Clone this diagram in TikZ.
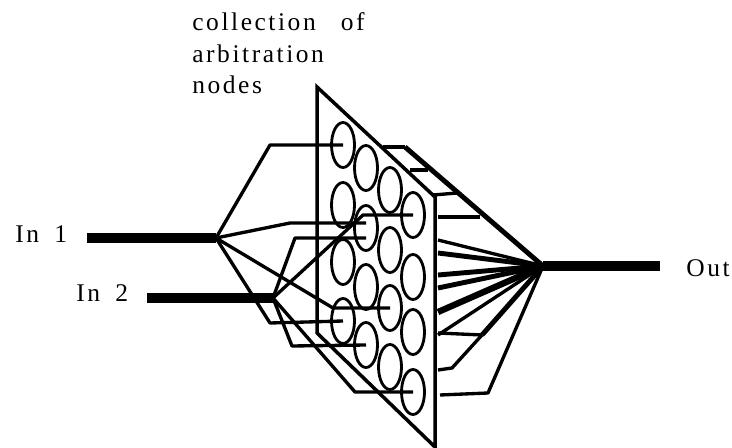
\documentclass[tikz,border=0pt]{standalone}
\usepackage{fontspec}
\setmainfont[LetterSpace=10,WordSpace=1.7]{Liberation Serif}
\usetikzlibrary{shapes.geometric}
\tikzstyle{cell}=[ellipse, draw=black, line width=1.6pt, inner sep=0pt, minimum width=0.46cm, minimum height=0.9cm]
\tikzstyle{wire}=[line width=1.9pt, line join=round]
\tikzstyle{heavywire}=[line width=2.8pt, line join=round]
\tikzstyle{bus}=[line width=6.2pt]
\tikzstyle{panelsty}=[line width=2pt, line join=miter]
\tikzstyle{labelsty}=[font=\fontsize{14.5}{17.9}\selectfont, inner sep=0pt]
\begin{document}
\begin{tikzpicture}[x=0.02cm,y=-0.02cm]
      \useasboundingbox (0,0) rectangle (732,448);

      % Panel
      \coordinate (pa) at (317,87);
      \coordinate (pb) at (317,333);
      \coordinate (pc) at (435,447);
      \coordinate (pd) at (435,197);
      \draw[panelsty] (pa) -- (pb) -- (pc) -- (pd) -- cycle;

      % Arbitration nodes, column by column
      \node[cell] (e11) at (343,145) {};
      \node[cell] (e12) at (343,205) {};
      \node[cell] (e13) at (343,262) {};
      \node[cell] (e14) at (343,321) {};

      \node[cell] (e21) at (366,168) {};
      \node[cell] (e22) at (366,228) {};
      \node[cell] (e23) at (366,287) {};
      \node[cell] (e24) at (366,345) {};

      \node[cell] (e31) at (390,190) {};
      \node[cell] (e32) at (390,250) {};
      \node[cell] (e33) at (390,308) {};
      \node[cell] (e34) at (390,367) {};

      \node[cell] (e41) at (413,215) {};
      \node[cell] (e42) at (413,277) {};
      \node[cell] (e43) at (413,332) {};
      \node[cell] (e44) at (413,392) {};

      % Inputs and output
      \node[labelsty,anchor=base west] (in1) at (15,243) {In 1};
      \node[labelsty,anchor=base west] (in2) at (76,302) {In 2};
      \node[labelsty,anchor=base west] (out) at (686,277) {Out};
      \node[labelsty,anchor=north west,align=left] (title) at (192,12.6) {collection\hspace{0.2cm} of\\arbitration\\nodes};

      \coordinate (in1s) at (87,238);
      \coordinate (in2s) at (147,298);
      \coordinate (outs) at (660,266);
      \coordinate (ja) at (216,238);
      \coordinate (jb) at (273,298);
      \coordinate (jc) at (543,266);

      \draw[bus] (in1s) -- (ja);
      \draw[bus] (in2s) -- (jb);
      \draw[bus] (jc) -- (outs);

      % Wires from In 1
      \draw[wire] (ja) -- (270,145) -- (e11.center);
      \draw[wire] (ja) -- (290,223) -- (366,223);
      \draw[wire] (ja) -- (333,308) -- (390,308);
      \draw[wire] (ja) -- (270,323) -- (e14.center);

      % Wires from In 2
      \draw[wire] (jb) -- (295,238) -- (366,238);
      \draw[wire] (jb) -- (363,215) -- (e41.center);
      \draw[wire] (jb) -- (292,346) -- (e24.center);
      \draw[wire] (jb) -- (355,392) -- (e44.center);

      % Wires to Out
      \draw[heavywire] (jc) -- (405,147);
      \draw[wire] (405,147) -- (383,147);
      \draw[wire] (428,170) -- (410,170);
      \draw[wire] (457,193) -- (433,195);
      \draw[wire] (480,217) -- (438,217);
      \draw[wire] (jc) -- (438,240);
      \draw[heavywire] (jc) -- (438,253);
      \draw[heavywire] (jc) -- (438,275);
      \draw[heavywire] (jc) -- (438,288);
      \draw[bus,line width=3.6pt] (jc) -- (438,312);
      \draw[wire] (jc) -- (438,335);
      \draw[heavywire] (jc) -- (482,335);
      \draw[wire] (482,335) -- (438,333);
      \draw[wire] (482,335) -- (452,368) -- (438,370);
      \draw[wire] (jc) -- (488,393) -- (440,395);
\end{tikzpicture}
\end{document}
